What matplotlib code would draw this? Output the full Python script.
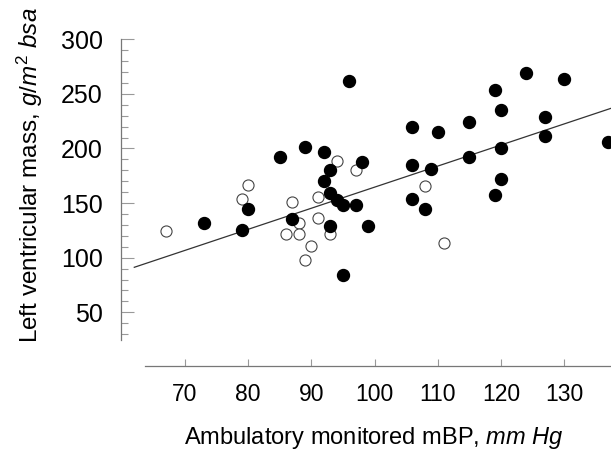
import numpy as np
import matplotlib
matplotlib.use("Agg")
import matplotlib.pyplot as plt
from matplotlib.ticker import MultipleLocator

plt.rcParams['font.family'] = ['Liberation Sans', 'DejaVu Sans']
plt.rcParams['mathtext.fontset'] = 'custom'
plt.rcParams['mathtext.rm'] = 'Liberation Sans'
plt.rcParams['mathtext.it'] = 'Liberation Sans:italic'

# filled circles
filled_x = [73, 79, 80, 85, 89, 87, 92, 93, 92, 93, 94, 95, 93, 95, 96, 97, 98, 99,
            106, 106, 106, 108, 109, 110, 115, 115, 119, 119, 120, 120, 120, 124, 130,
            127, 127, 137]
filled_y = [132, 125, 145, 192, 201, 135, 197, 180, 170, 159, 153, 148, 129, 84, 262, 148, 188, 129,
            220, 185, 154, 145, 181, 215, 224, 192, 254, 157, 235, 200, 172, 269, 264,
            229, 211, 206]

# open circles
open_x = [67, 79, 80, 86, 87, 88, 88, 90, 89, 91, 91, 93, 94, 97, 108, 111]
open_y = [124, 154, 167, 122, 151, 132, 122, 111, 98, 156, 136, 122, 189, 180, 166, 113]

# regression line end points
fit_x = [62.0, 137.4]
fit_y = [91.2, 236.8]

fig = plt.figure(figsize=(6.11, 4.51), dpi=100)
ax = fig.add_axes([121 / 611, 85 / 451, 490 / 611, 326.7 / 451])
ax.set_xlim(59.9, 137.4)
ax.set_ylim(0.8, 300)

ax.plot(fit_x, fit_y, color='#333333', lw=0.9, zorder=1)
ax.plot(open_x, open_y, 'o', mfc='white', mec='#444444', mew=0.8, ms=8.0, zorder=2, clip_on=False)
ax.plot(filled_x, filled_y, 'o', mfc='black', mec='black', ms=8.6, zorder=3)

for s in ['top', 'right']:
    ax.spines[s].set_visible(False)
ax.spines['left'].set_bounds(25, 300)
ax.spines['bottom'].set_bounds(63.7, 137.4)
for s in ['left', 'bottom']:
    ax.spines[s].set_color('#777777')
    ax.spines[s].set_linewidth(0.9)

ax.set_xticks([70, 80, 90, 100, 110, 120, 130])
ax.set_yticks([50, 100, 150, 200, 250, 300])
ax.yaxis.set_minor_locator(MultipleLocator(10))
ax.set_yticks(np.arange(30, 300, 10), minor=True)
ax.tick_params(axis='y', which='major', direction='in', length=9, width=0.8,
               color='#999999', labelsize=18, pad=13)
ax.tick_params(axis='y', which='minor', direction='in', length=5, width=0.8, color='#999999')
ax.tick_params(axis='x', which='major', direction='in', length=5, width=0.8,
               color='#999999', labelsize=16.5, pad=12)

fig.text(374 / 611, 1 - 438 / 451, 'Ambulatory monitored mBP, $\\mathit{mm\\ Hg}$',
         ha='center', va='center', fontsize=17)
fig.text(30 / 611, 1 - 175 / 451, 'Left ventricular mass, $\\mathit{g/m^2\\ bsa}$',
         ha='center', va='center', rotation=90, fontsize=17.5)

fig.savefig('out.png', dpi=100)
